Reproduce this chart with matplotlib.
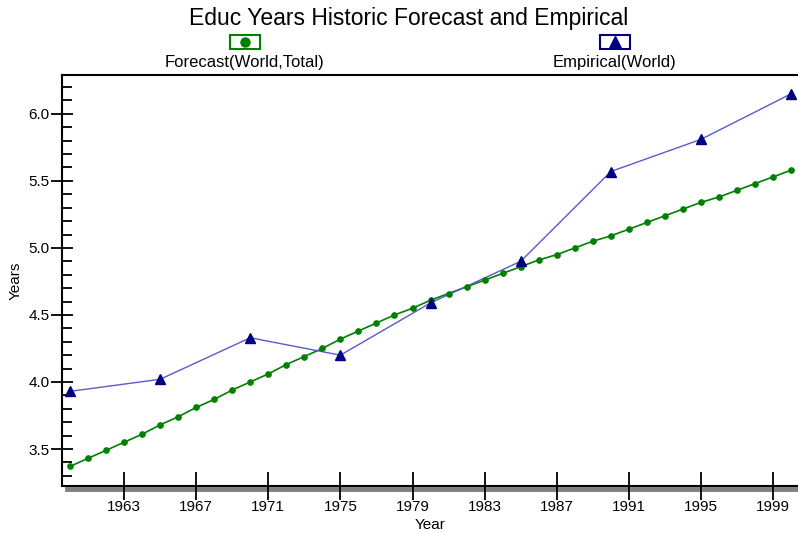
import matplotlib
matplotlib.use("Agg")
import matplotlib.pyplot as plt
import matplotlib.transforms as mtransforms
from matplotlib.patches import Rectangle
from matplotlib.lines import Line2D
from matplotlib.ticker import MultipleLocator

plt.rcParams['font.family'] = ['Liberation Sans', 'DejaVu Sans']

forecast_years = list(range(1960, 2001))
forecast_values = [3.37, 3.43, 3.49, 3.55, 3.61, 3.68, 3.74, 3.81, 3.87, 3.94,
                   4.00, 4.06, 4.13, 4.19, 4.25, 4.32, 4.38, 4.44, 4.50, 4.55,
                   4.61, 4.66, 4.71, 4.76, 4.81, 4.86, 4.91, 4.95, 5.00, 5.05,
                   5.09, 5.14, 5.19, 5.24, 5.29, 5.34, 5.38, 5.43, 5.48, 5.53,
                   5.58]
empirical_years = [1960, 1965, 1970, 1975, 1980, 1985, 1990, 1995, 2000]
empirical_values = [3.93, 4.02, 4.33, 4.20, 4.59, 4.90, 5.57, 5.81, 6.15]
xtick_years = [1963, 1967, 1971, 1975, 1979, 1983, 1987, 1991, 1995, 1999]
ytick_values = [3.5, 4.0, 4.5, 5.0, 5.5, 6.0]

W, H = 798, 533
fig = plt.figure(figsize=(W / 100, H / 100), dpi=100)
ax = fig.add_axes([62 / W, (H - 486) / H, (W - 62) / W, (486 - 75) / H])

green = '#008000'
navy = '#000080'
ax.plot(forecast_years, forecast_values, color=green, lw=1.2, zorder=3)
ax.plot(forecast_years, forecast_values, 'o', color=green, ms=3.8, zorder=4)
ax.plot(empirical_years, empirical_values, color='#5a5ac8', lw=1.0, zorder=3)
ax.plot(empirical_years, empirical_values, '^', color=navy, ms=7.5, zorder=5)

ax.set_xlim(1959.56, 2000.38)
ax.set_ylim(3.224, 6.29)
ax.set_xticks(xtick_years)
ax.set_yticks(ytick_values)
ax.set_yticklabels([f"{v:.1f}" for v in ytick_values])
ax.yaxis.set_minor_locator(MultipleLocator(0.1))

ax.spines['right'].set_visible(False)
for s in ['left', 'top', 'bottom']:
    ax.spines[s].set_linewidth(1.5)
    ax.spines[s].set_color('black')

ax.tick_params(axis='x', which='major', direction='inout', length=20, width=1.3,
               labelsize=11, pad=0)
ax.tick_params(axis='y', which='major', direction='inout', length=16, width=1.3,
               labelsize=11, pad=1)
ax.tick_params(axis='y', which='minor', direction='in', length=7, width=1.3)
ax.tick_params(axis='x', which='minor', bottom=False)

ax.set_xlabel('Year', fontsize=11, labelpad=3)
ax.set_ylabel('Years', fontsize=11, labelpad=4)

# gray shadow under the x axis
shadow_tr = ax.transAxes + mtransforms.ScaledTranslation(0, -3 / 100, fig.dpi_scale_trans)
ax.add_line(Line2D([5 / (W - 62), 1], [0, 0], transform=shadow_tr, color='#808080',
                   lw=3.5, clip_on=False, zorder=1))

fig.text(409 / W, 1 - 18 / H, 'Educ Years Historic Forecast and Empirical',
         ha='center', va='center', fontsize=16.5)

# legend
def legend_item(cx, label, edge, marker, msize):
    w, h = 30, 13
    cy = 42
    fig.add_artist(Rectangle(((cx - w / 2) / W, (H - cy - h / 2) / H), w / W, h / H,
                             transform=fig.transFigure, facecolor='white',
                             edgecolor=edge, lw=1.5))
    fig.add_artist(Line2D([cx / W], [(H - cy) / H], transform=fig.transFigure,
                          marker=marker, color=edge, ms=msize, ls='none'))
    fig.text(cx / W, 1 - 62 / H, label, ha='center', va='center', fontsize=12)

legend_item(245, 'Forecast(World,Total)', green, 'o', 6.5)
legend_item(615, 'Empirical(World)', navy, '^', 8.5)

fig.savefig('out.png', dpi=100)
